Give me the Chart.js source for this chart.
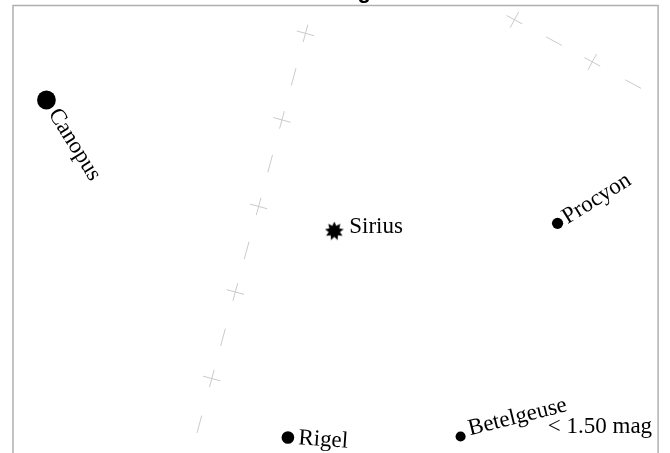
<!DOCTYPE html>
<html>
<head>
<meta charset="utf-8">
<script src="https://cdn.jsdelivr.net/npm/chart.js@4.4.1/dist/chart.umd.min.js"></script>
<style>
  html, body { margin: 0; padding: 0; background: #fff; overflow: hidden; }
  #wrap { position: relative; width: 670px; height: 453px; overflow: hidden; }
  #skyChart { position: absolute; left: 0; top: -25px; }
</style>
</head>
<body>
<div id="wrap"><canvas id="skyChart" width="670" height="500"></canvas></div>
<script>
// Bintang terang (koordinat dalam satuan peta)
const starNames = ['Canopus', 'Sirius', 'Procyon', 'Rigel', 'Betelgeuse'];
const starX = [33.7, 323.7, 548.7, 277, 451];
const starY = [95, 226.7, 219, 434.3, 433.3];
const starMag = [-0.74, -1.46, 0.34, 0.13, 0.5];

// Garis koordinat (titik silang)
const gridAX = [294.7, 271, 247.5, 224, 200.3, 176.6];
const gridAY = [28, 115, 202, 288, 375, 462];
const gridBX = [505.3, 583.7, 662.1];
const gridBY = [14.3, 56.7, 99.1];

const magLimitText = '< 1.50 mag';
const chartTitle = 'Orion region';

// gaya label per bintang
const labelStyle = [
    { angle: 58, along: 12.5, across: 0 },
    { angle: 0, along: 15, across: -4.5 },
    { angle: -32, along: 8, across: 0 },
    { angle: 4, along: 10.5, across: 0 },
    { angle: -14, along: 9.5, across: -5 }
];

// bentuk bintang untuk Sirius
function makeBurst(size, points) {
    const c = document.createElement('canvas');
    c.width = size; c.height = size;
    const g = c.getContext('2d');
    const r1 = size / 2, r2 = size / 2 * 0.6;
    g.beginPath();
    for (let i = 0; i < points * 2; i++) {
        const r = i % 2 === 0 ? r1 : r2;
        const a = -Math.PI / 2 + i * Math.PI / points;
        const px = r1 + r * Math.cos(a), py = r1 + r * Math.sin(a);
        if (i === 0) g.moveTo(px, py); else g.lineTo(px, py);
    }
    g.closePath();
    g.fillStyle = '#000';
    g.fill();
    return c;
}
const burst = makeBurst(19, 9);

const toPts = (xs, ys) => xs.map((x, i) => ({ x: x, y: ys[i] }));

const starStyles = starNames.map(n => n === 'Sirius' ? burst : 'circle');
const starRadius = starMag.map(m => 6.8 - 3.5 * m);

const frame = {
    id: 'frame',
    afterDatasetsDraw(chart) {
        const a = chart.chartArea, ctx = chart.ctx;
        ctx.save();
        ctx.strokeStyle = '#b0b0b0';
        ctx.lineWidth = 1.5;
        ctx.strokeRect(a.left, a.top, a.right - a.left, a.bottom - a.top);
        ctx.restore();
    }
};

const starLabels = {
    id: 'starLabels',
    afterDatasetsDraw(chart) {
        const ctx = chart.ctx;
        const meta = chart.getDatasetMeta(2);
        ctx.save();
        ctx.fillStyle = '#000';
        ctx.font = '23px "Liberation Serif", "Times New Roman", serif';
        meta.data.forEach((pt, i) => {
            const s = labelStyle[i];
            ctx.save();
            ctx.translate(pt.x, pt.y);
            ctx.rotate(s.angle * Math.PI / 180);
            ctx.textAlign = 'left';
            ctx.textBaseline = 'middle';
            ctx.fillText(starNames[i], s.along, s.across);
            ctx.restore();
        });
        // keterangan batas magnitudo
        const a = chart.chartArea;
        ctx.textAlign = 'right';
        ctx.textBaseline = 'alphabetic';
        ctx.fillText(magLimitText, a.right - 6, a.bottom - 30);
        ctx.restore();
    }
};

const gridLine = (xs, ys, rot) => ({
    type: 'scatter',
    data: toPts(xs, ys),
    showLine: true,
    borderColor: '#cacaca',
    borderWidth: 1,
    borderDash: [18, 72],
    borderDashOffset: 54,
    pointStyle: 'cross',
    pointRadius: 9,
    pointRotation: rot,
    pointBorderColor: '#cacaca',
    pointBorderWidth: 1,
    tension: 0
});

new Chart(document.getElementById('skyChart'), {
    type: 'scatter',
    data: {
        datasets: [
            gridLine(gridAX, gridAY, 15.2),
            gridLine(gridBX, gridBY, 28.4),
            {
                data: toPts(starX, starY),
                pointStyle: starStyles,
                pointRadius: starRadius,
                backgroundColor: '#000',
                borderColor: '#000',
                borderWidth: 0
            }
        ]
    },
    options: {
        responsive: false,
        devicePixelRatio: 1,
        animation: false,
        events: [],
        layout: { padding: { left: 13, right: 7, top: 0, bottom: 10 } },
        plugins: {
            legend: { display: false },
            tooltip: { enabled: false },
            title: {
                display: true,
                text: chartTitle,
                color: '#000',
                font: { family: '"Liberation Sans", Arial, sans-serif', size: 22, weight: 'bold' },
                padding: { top: 3.6, bottom: 0.5 }
            }
        },
        scales: {
            x: { type: 'linear', min: 0, max: 650, display: false },
            y: { type: 'linear', min: 0, max: 460, reverse: true, display: false }
        }
    },
    plugins: [frame, starLabels]
});
</script>
</body>
</html>
